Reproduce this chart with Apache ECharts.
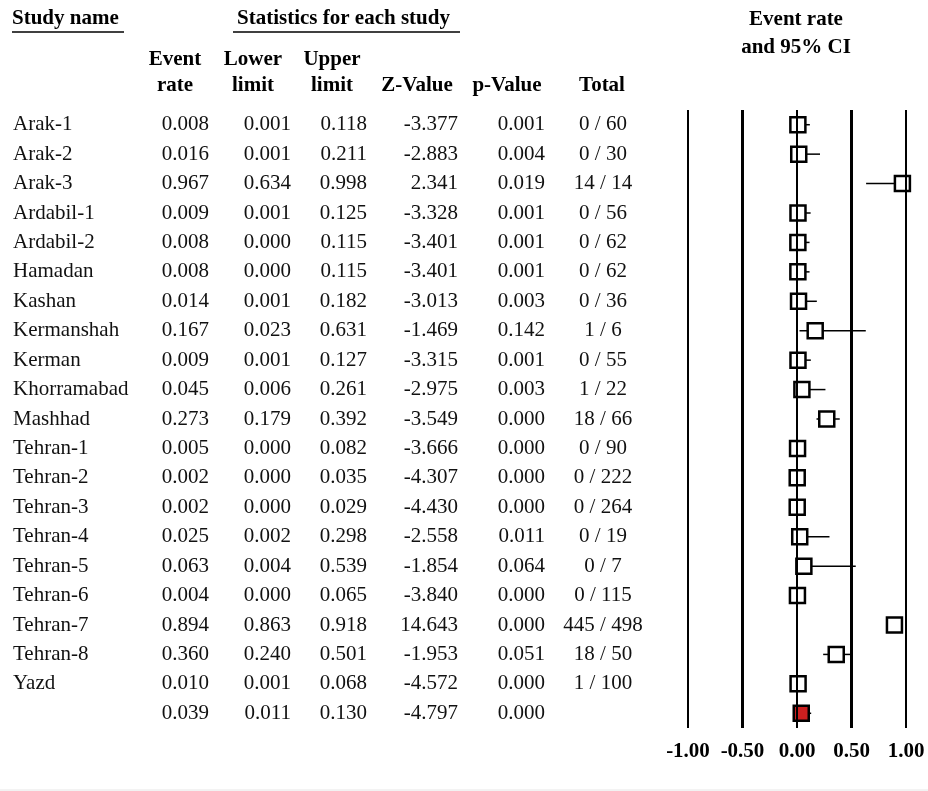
<!DOCTYPE html>
<html>
<head>
<meta charset="utf-8">
<title>Event rate forest plot</title>
<script src="https://cdn.jsdelivr.net/npm/echarts@6/dist/echarts.min.js"></script>
<style>
  html, body { margin: 0; padding: 0; background: #fff; }
  #chart { width: 928px; height: 791px; }
</style>
</head>
<body>
<div id="chart"></div>
<script>
// study rows
const studyNames = ['Arak-1', 'Arak-2', 'Arak-3', 'Ardabil-1', 'Ardabil-2', 'Hamadan', 'Kashan',
  'Kermanshah', 'Kerman', 'Khorramabad', 'Mashhad', 'Tehran-1', 'Tehran-2', 'Tehran-3',
  'Tehran-4', 'Tehran-5', 'Tehran-6', 'Tehran-7', 'Tehran-8', 'Yazd']
const eventRate = [0.008, 0.016, 0.967, 0.009, 0.008, 0.008, 0.014, 0.167, 0.009, 0.045,
  0.273, 0.005, 0.002, 0.002, 0.025, 0.063, 0.004, 0.894, 0.360, 0.010]
const lowerLimit = [0.001, 0.001, 0.634, 0.001, 0.000, 0.000, 0.001, 0.023, 0.001, 0.006,
  0.179, 0.000, 0.000, 0.000, 0.002, 0.004, 0.000, 0.863, 0.240, 0.001]
const upperLimit = [0.118, 0.211, 0.998, 0.125, 0.115, 0.115, 0.182, 0.631, 0.127, 0.261,
  0.392, 0.082, 0.035, 0.029, 0.298, 0.539, 0.065, 0.918, 0.501, 0.068]
const zValue = [-3.377, -2.883, 2.341, -3.328, -3.401, -3.401, -3.013, -1.469, -3.315, -2.975,
  -3.549, -3.666, -4.307, -4.430, -2.558, -1.854, -3.840, 14.643, -1.953, -4.572]
const pValue = [0.001, 0.004, 0.019, 0.001, 0.001, 0.001, 0.003, 0.142, 0.001, 0.003,
  0.000, 0.000, 0.000, 0.000, 0.011, 0.064, 0.000, 0.000, 0.051, 0.000]
const totals = ['0 / 60', '0 / 30', '14 / 14', '0 / 56', '0 / 62', '0 / 62', '0 / 36', '1 / 6',
  '0 / 55', '1 / 22', '18 / 66', '0 / 90', '0 / 222', '0 / 264', '0 / 19', '0 / 7', '0 / 115',
  '445 / 498', '18 / 50', '1 / 100']

// pooled estimate
const pooledRate = 0.039
const pooledLower = 0.011
const pooledUpper = 0.130
const pooledZ = -4.797
const pooledP = 0.000

// axis ticks
const xTicks = [-1, -0.5, 0, 0.5, 1]

// table columns (all rows incl. pooled one)
const colName = studyNames.concat([''])
const colRate = eventRate.concat([pooledRate]).map(v => v.toFixed(3))
const colLower = lowerLimit.concat([pooledLower]).map(v => v.toFixed(3))
const colUpper = upperLimit.concat([pooledUpper]).map(v => v.toFixed(3))
const colZ = zValue.concat([pooledZ]).map(v => v.toFixed(3))
const colP = pValue.concat([pooledP]).map(v => v.toFixed(3))
const colTotal = totals.concat([''])
const rowIds = colName.map((_, i) => String(i))

const FONT = '"Liberation Serif", "Times New Roman", serif'
const GRID_LEFT = 688

// one hidden category axis per table column, pushed left with offset
function tableAxis(col, anchorX, align) {
  return {
    type: 'category',
    data: rowIds,
    inverse: true,
    position: 'left',
    offset: GRID_LEFT - anchorX,
    axisLine: { show: false },
    axisTick: { show: false },
    splitLine: { show: false },
    axisLabel: {
      interval: 0,
      margin: 0,
      align: align,
      fontFamily: FONT,
      fontSize: 21,
      color: '#111',
      formatter: (v, i) => col[i]
    }
  }
}

const chart = echarts.init(document.getElementById('chart'))

const option = {
  animation: false,
  backgroundColor: '#fff',
  grid: { left: GRID_LEFT, top: 110, width: 218, height: 618 },
  xAxis: {
    type: 'value',
    min: -1,
    max: 1,
    interval: 0.5,
    axisLine: { show: false },
    axisTick: { show: false },
    splitLine: { show: false },
    axisLabel: {
      margin: 13,
      fontFamily: FONT,
      fontSize: 21,
      fontWeight: 'bold',
      color: '#000',
      formatter: v => v.toFixed(2)
    }
  },
  yAxis: [
    {
      type: 'category',
      data: rowIds,
      inverse: true,
      show: false
    },
    tableAxis(colName, 13, 'left'),
    tableAxis(colRate, 209, 'right'),
    tableAxis(colLower, 291, 'right'),
    tableAxis(colUpper, 367, 'right'),
    tableAxis(colZ, 458, 'right'),
    tableAxis(colP, 545, 'right'),
    tableAxis(colTotal, 603, 'center')
  ],
  graphic: [
    // headers
    { type: 'text', left: 12, top: 8, style: { text: 'Study name', font: 'bold 21px ' + FONT, fill: '#000' } },
    { type: 'line', shape: { x1: 12, y1: 32, x2: 124, y2: 32 }, style: { stroke: '#000', lineWidth: 1.5 } },
    { type: 'text', left: 237, top: 8, style: { text: 'Statistics for each study', font: 'bold 21px ' + FONT, fill: '#000' } },
    { type: 'line', shape: { x1: 233, y1: 32, x2: 460, y2: 32 }, style: { stroke: '#000', lineWidth: 1.5 } },
    { type: 'text', x: 175, y: 73, style: { text: 'Event\nrate', font: 'bold 21px ' + FONT, lineHeight: 26, align: 'center', verticalAlign: 'middle', fill: '#000' } },
    { type: 'text', x: 253, y: 73, style: { text: 'Lower\nlimit', font: 'bold 21px ' + FONT, lineHeight: 26, align: 'center', verticalAlign: 'middle', fill: '#000' } },
    { type: 'text', x: 332, y: 73, style: { text: 'Upper\nlimit', font: 'bold 21px ' + FONT, lineHeight: 26, align: 'center', verticalAlign: 'middle', fill: '#000' } },
    { type: 'text', x: 417, y: 86, style: { text: 'Z-Value', font: 'bold 21px ' + FONT, align: 'center', verticalAlign: 'middle', fill: '#000' } },
    { type: 'text', x: 507, y: 86, style: { text: 'p-Value', font: 'bold 21px ' + FONT, align: 'center', verticalAlign: 'middle', fill: '#000' } },
    { type: 'text', x: 602, y: 86, style: { text: 'Total', font: 'bold 21px ' + FONT, align: 'center', verticalAlign: 'middle', fill: '#000' } },
    { type: 'text', x: 796, y: 34, style: { text: 'Event rate\nand 95% CI', font: 'bold 21px ' + FONT, lineHeight: 28, align: 'center', verticalAlign: 'middle', fill: '#000' } },
    // faint bottom rule
    { type: 'line', shape: { x1: 0, y1: 790, x2: 928, y2: 790 }, style: { stroke: '#e6e6e6', lineWidth: 1 } }
  ],
  series: [
    {
      // confidence intervals
      type: 'custom',
      name: 'ci',
      yAxisIndex: 0,
      z: 2,
      encode: { x: [0, 2], y: 1 },
      data: lowerLimit.map((lo, i) => [lo, i, upperLimit[i]])
        .concat([[pooledLower, studyNames.length, pooledUpper]]),
      renderItem: (params, api) => {
        const a = api.coord([api.value(0), api.value(1)])
        const b = api.coord([api.value(2), api.value(1)])
        return {
          type: 'line',
          shape: { x1: a[0], y1: a[1], x2: b[0], y2: b[1] },
          style: { stroke: '#000', lineWidth: 1.5 }
        }
      },
      markLine: {
        silent: true,
        symbol: 'none',
        label: { show: false },
        data: xTicks.map(v => ({
          xAxis: v,
          lineStyle: { color: '#000', type: 'solid', width: Math.abs(v) === 0.5 ? 3 : 2 }
        }))
      }
    },
    {
      type: 'scatter',
      name: 'study',
      yAxisIndex: 0,
      z: 3,
      symbol: 'rect',
      symbolSize: 15,
      itemStyle: { color: '#fff', borderColor: '#000', borderWidth: 2.5, opacity: 1 },
      data: eventRate.map((v, i) => [v, i])
    },
    {
      type: 'scatter',
      name: 'pooled',
      yAxisIndex: 0,
      z: 4,
      symbol: 'rect',
      symbolSize: 15,
      itemStyle: { color: '#cc1f1f', borderColor: '#000', borderWidth: 2.5, opacity: 1 },
      data: [[pooledRate, studyNames.length]]
    }
  ]
}

chart.setOption(option)
</script>
</body>
</html>
